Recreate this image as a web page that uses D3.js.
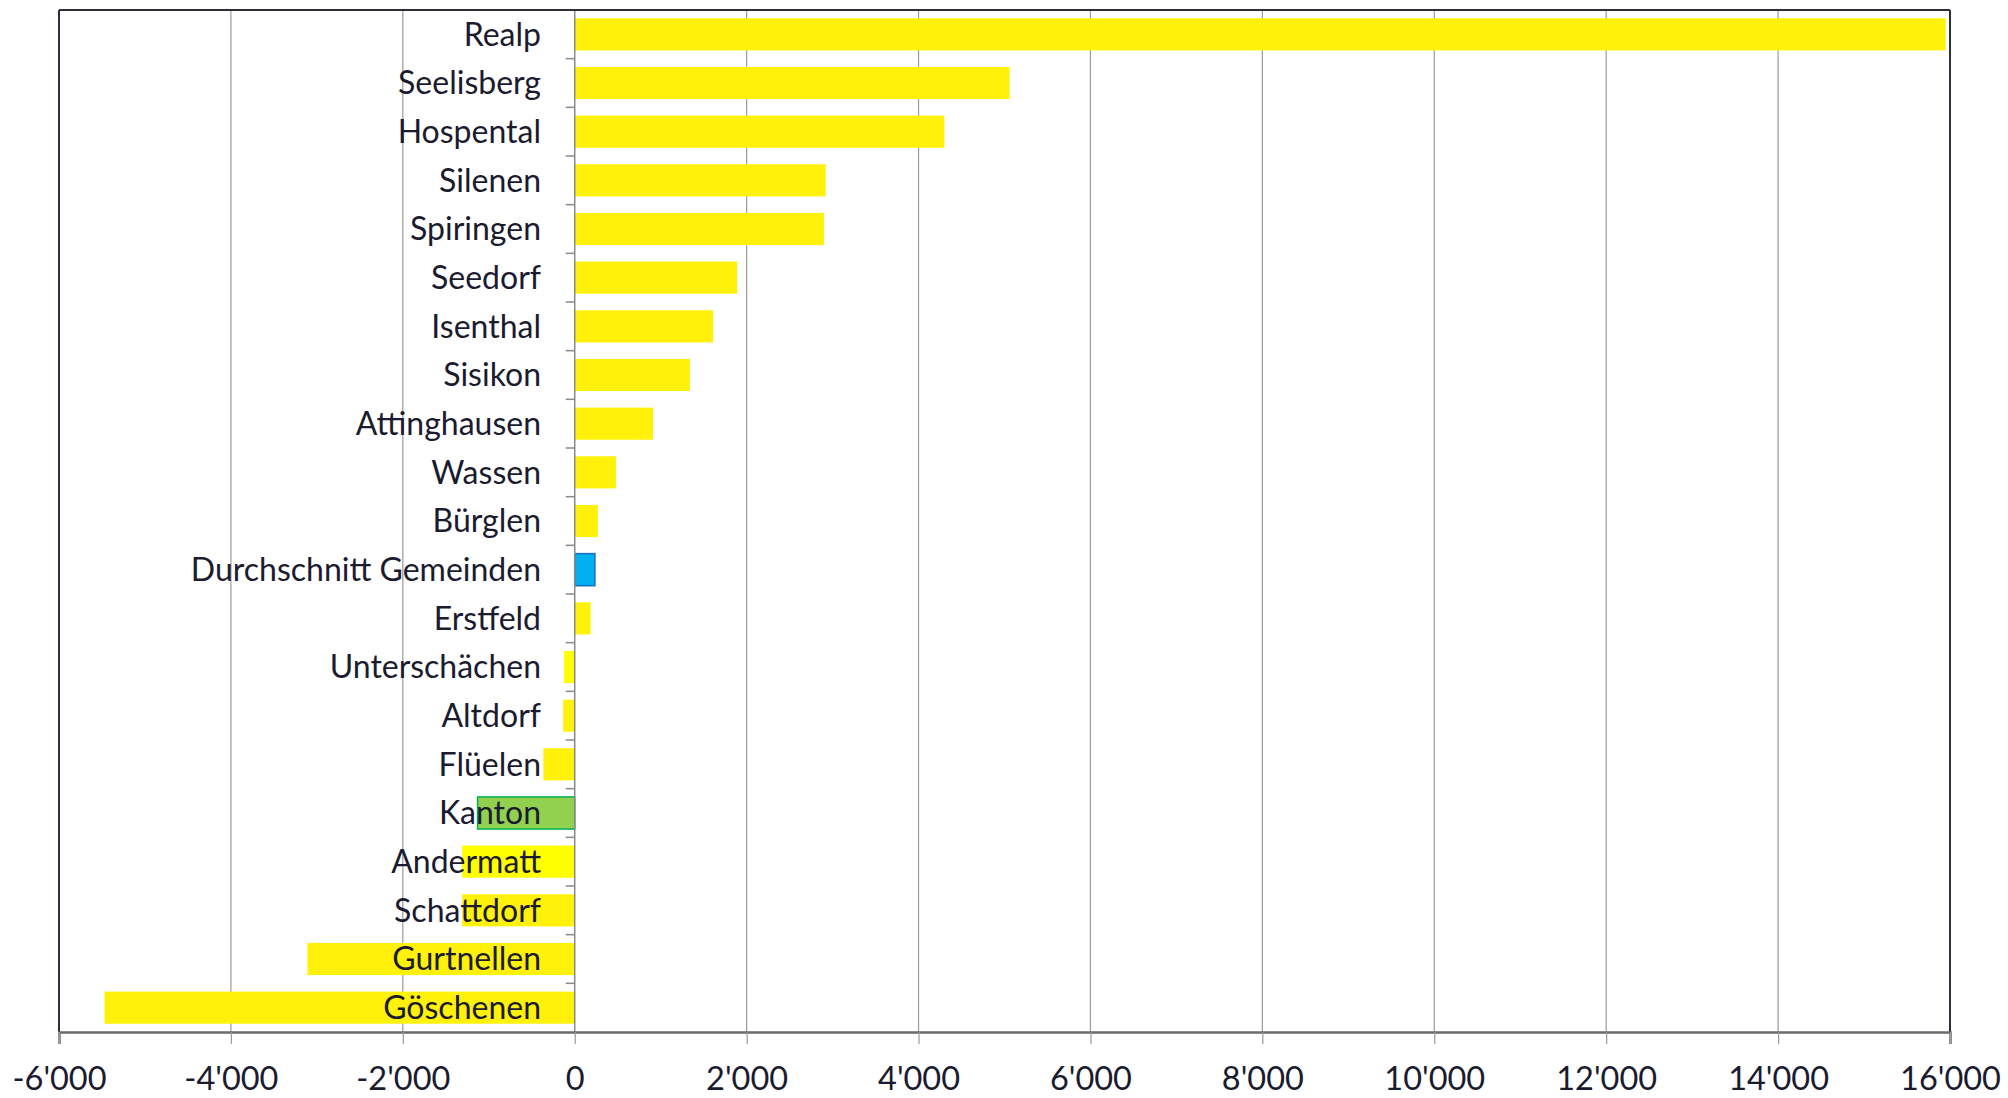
<!DOCTYPE html>
<html><head><meta charset="utf-8">
<script src="https://cdn.jsdelivr.net/npm/d3@7"></script>
<style>body{margin:0;background:#fff;} svg{display:block;} text{font-family:Lato, "Open Sans", sans-serif;fill:#1b1b2f;}</style>
</head><body>
<svg id="c" width="2008" height="1098"></svg>
<script>
const categories = ["Realp","Seelisberg","Hospental","Silenen","Spiringen","Seedorf","Isenthal","Sisikon","Attinghausen","Wassen","Bürglen","Durchschnitt Gemeinden","Erstfeld","Unterschächen","Altdorf","Flüelen","Kanton","Andermatt","Schattdorf","Gurtnellen","Göschenen"];
const values = [15950,5060,4300,2920,2900,1890,1610,1340,910,480,270,235,185,-125,-135,-365,-1130,-1310,-1310,-3110,-5470];
const kinds = ["g","g","g","g","g","g","g","g","g","g","g","avg","g","g2","g","g","kanton","g2","g","g","g"];
const tickValues = [-6000,-4000,-2000,0,2000,4000,6000,8000,10000,12000,14000,16000];
const tickLabels = ["-6'000","-4'000","-2'000","0","2'000","4'000","6'000","8'000","10'000","12'000","14'000","16'000"];

const L=59, R=1950, T=10, B=1032;
const svg=d3.select("#c");
const x=d3.scaleLinear().domain([-6000,16000]).range([L,R]);
const y=d3.scaleBand().domain(categories).range([T,B]).paddingInner(0.34).paddingOuter(0.17);

const fills={g:"#fff10a",g2:"#ffff00",avg:"#00b0f0",kanton:"#92d050"};
const strokes={g:"none",g2:"none",avg:"#1a6fc0",kanton:"#00b050"};

// gridlines
svg.append("g").selectAll("line").data(tickValues.filter(v=>v!==0 && v!==-6000 && v!==16000)).join("line")
  .attr("x1",d=>x(d)).attr("x2",d=>x(d)).attr("y1",T).attr("y2",B)
  .attr("stroke","#9a9a9a").attr("stroke-width",1.2);

// bars
const data=categories.map((c,i)=>({c,v:values[i],k:kinds[i]}));
svg.append("g").selectAll("rect").data(data).join("rect")
  .attr("x",d=>x(Math.min(0,d.v))).attr("width",d=>Math.abs(x(d.v)-x(0)))
  .attr("y",d=>y(d.c)).attr("height",y.bandwidth())
  .attr("fill",d=>fills[d.k]).attr("stroke",d=>strokes[d.k]).attr("stroke-width",1.5);

// zero axis + category ticks
svg.append("line").attr("x1",x(0)).attr("x2",x(0)).attr("y1",T).attr("y2",B).attr("stroke","#8a8a8a").attr("stroke-width",1.5);
const bounds=d3.range(categories.length+1).map(i=>T+y.step()*i);
svg.append("g").selectAll("line").data(bounds.slice(1,-1)).join("line")
  .attr("x1",x(0)-9).attr("x2",x(0)).attr("y1",d=>d).attr("y2",d=>d)
  .attr("stroke","#8a8a8a").attr("stroke-width",1.5);

// frame
svg.append("line").attr("x1",L).attr("x2",R).attr("y1",T).attr("y2",T).attr("stroke","#2e2e3a").attr("stroke-width",2);
svg.append("line").attr("x1",L).attr("x2",L).attr("y1",T).attr("y2",B).attr("stroke","#2e2e3a").attr("stroke-width",2);
svg.append("line").attr("x1",R).attr("x2",R).attr("y1",T).attr("y2",B).attr("stroke","#2e2e3a").attr("stroke-width",2);

// x axis
const xAxis=d3.axisBottom(x).tickValues(tickValues).tickFormat((d,i)=>tickLabels[i]).tickSize(12).tickPadding(23);
const ga=svg.append("g").attr("transform",`translate(0,${B})`).call(xAxis);
ga.select(".domain").attr("stroke","#6b6b6b").attr("stroke-width",2.5);
ga.selectAll(".tick line").attr("stroke","#9a9a9a").attr("stroke-width",1.2);
ga.selectAll(".tick text").attr("font-size",32.5).attr("font-family","Lato, 'Open Sans', sans-serif").attr("fill","#1b1b2f");

// category labels
svg.append("g").selectAll("text").data(categories).join("text")
  .attr("x",541).attr("y",d=>y(d)+y.bandwidth()/2).attr("dy","0.35em")
  .attr("text-anchor","end").attr("font-size",32).text(d=>d);
</script>
</body></html>
